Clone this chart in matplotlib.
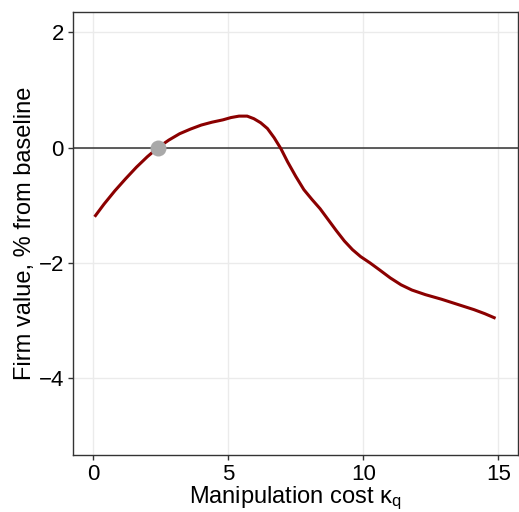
import matplotlib
matplotlib.use("Agg")
import matplotlib.pyplot as plt

# Firm value response to the manipulation cost
kappa = [0.05, 0.4, 0.8, 1.2, 1.6, 2.0, 2.4, 2.8, 3.2, 3.6, 4.0, 4.4, 4.8,
         5.1, 5.4, 5.7, 5.95, 6.2, 6.45, 6.7, 6.95, 7.2, 7.5, 7.8, 8.1, 8.4,
         8.7, 9.0, 9.3, 9.6, 9.9, 10.25, 10.6, 11.0, 11.4, 11.8, 12.3, 12.9,
         13.5, 14.1, 14.5, 14.9]
firm_value = [-1.20, -0.98, -0.75, -0.54, -0.34, -0.16, 0.0, 0.13, 0.24, 0.32,
              0.39, 0.44, 0.48, 0.52, 0.545, 0.545, 0.50, 0.43, 0.33, 0.17,
              -0.02, -0.25, -0.50, -0.73, -0.90, -1.06, -1.25, -1.44, -1.62,
              -1.77, -1.89, -2.00, -2.12, -2.26, -2.38, -2.47, -2.55, -2.63,
              -2.72, -2.81, -2.88, -2.96]

# Break-even cost marker
break_even_x = [2.4]
break_even_y = [0.0]

x_ticks = [0, 5, 10, 15]
y_ticks = [-4, -2, 0, 2]

plt.rcParams['font.family'] = ['Liberation Sans', 'DejaVu Sans']

fig = plt.figure(figsize=(5.19, 5.12), dpi=100)
ax = fig.add_axes([73 / 519, 1 - 455 / 512, 445 / 519, 443 / 512])

ax.set_xlim(-0.75, 15.73)
ax.set_ylim(-5.33, 2.35)

ax.set_xticks(x_ticks)
ax.set_yticks(y_ticks)
ax.set_yticklabels(["\u22124", "\u22122", "0", "2"])
ax.grid(True, color="#EBEBEB", linewidth=1.0)
ax.set_axisbelow(True)

ax.axhline(0, color="#333333", linewidth=1.1, zorder=2)
ax.plot(kappa, firm_value, color="#8B0000", linewidth=2.2, zorder=3,
        solid_joinstyle="round", solid_capstyle="butt")
ax.plot(break_even_x, break_even_y, "o", color="#A9A9A9", markersize=11.5,
        markeredgewidth=0, zorder=4)

for s in ax.spines.values():
    s.set_color("#333333")
    s.set_linewidth(1.0)

ax.tick_params(axis="both", colors="#333333", length=3.5, width=1.0,
               labelsize=16, labelcolor="black", pad=3)

ax.set_xlabel(r"Manipulation cost $\mathregular{\kappa_q}$", fontsize=17,
              labelpad=0)
ax.set_ylabel("Firm value, % from baseline", fontsize=17, labelpad=2)

fig.savefig("out.png", dpi=100)
